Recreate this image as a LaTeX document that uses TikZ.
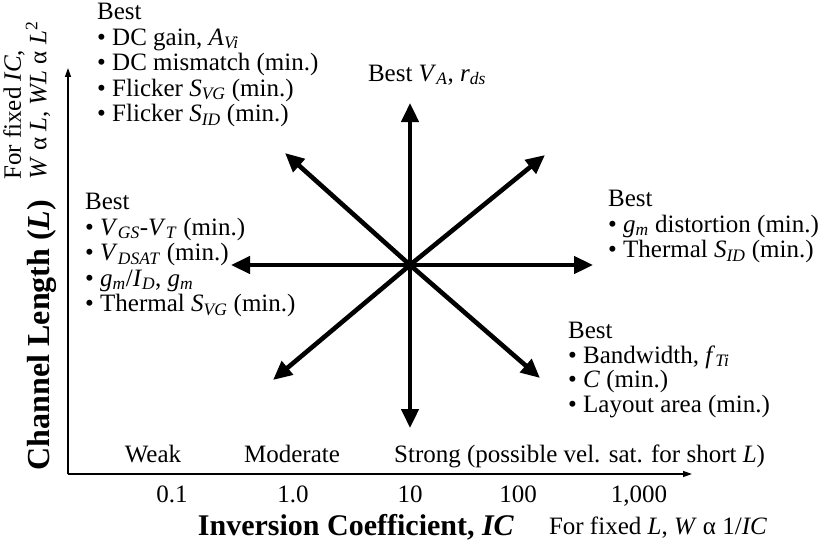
\documentclass[tikz,border=0pt]{standalone}
\usepackage{fontspec}
\setmainfont{Liberation Serif}
\usetikzlibrary{arrows.meta}
\newcommand{\vsub}[2]{\textit{#1}\textsubscript{\textit{#2}}}
\tikzset{
  txt/.style={inner sep=0pt,font=\fontsize{25}{25.5}\selectfont},
  blk/.style={txt,align=left,anchor=north west},
  star/.style={line width=4.6pt,-{Triangle[length=19pt,width=17pt]}},
  ax/.style={line width=1.3pt,-{Triangle[length=9pt,width=6pt]}}
}

\begin{document}
\begin{tikzpicture}[x=1pt,y=-1pt]
\useasboundingbox (0,0) rectangle (820,543);
\coordinate (org) at (68,474);
\coordinate (ytip) at (68,68);
\coordinate (xtip) at (692,474);
\draw[ax] (org)--(ytip);
\draw[ax] (org)--(xtip);
% the star of trade-offs
\coordinate (O) at (410,265);
\foreach \n/\x/\y in {up/410/103,dn/410/428,lt/231/265,rt/593/265,
  ul/285/153,ur/545/155,dl/273/380,dr/540/378}
  \coordinate (\n) at (\x,\y);
\foreach \n in {up,dn,lt,rt,ul,ur,dl,dr}
  \draw[star] (O)--(\n);
\path
(97,3)node[blk](bestUL){Best\\
  • DC gain, \vsub{A}{Vi}\\
  • DC mismatch (min.)\\
  • Flicker \vsub{S}{VG} (min.)\\
  • Flicker \vsub{S}{ID} (min.)}
(85,193)node[blk](bestL){Best\\
  • \vsub{V}{GS}-\vsub{V}{T} (min.)\\
  • \vsub{V}{DSAT} (min.)\\
  • \vsub{g}{m}/\vsub{I}{D}, \vsub{g}{m}\\
  • Thermal \vsub{S}{VG} (min.)}
(608,190)node[blk](bestR){Best\\
  • \vsub{g}{m} distortion (min.)\\
  • Thermal \vsub{S}{ID} (min.)}
(568,322)node[blk,font=\fontsize{25}{24.5}\selectfont](bestDR){Best\\
  • Bandwidth, \vsub{f}{Ti}\\
  • \textit{C} (min.)\\
  • Layout area (min.)}
(427,75)node[txt](bestU){Best \vsub{V}{A}, \vsub{r}{ds}}
;
\path
(3,180)node[blk,rotate=90](fixIC){For fixed \textit{IC},\\
  \textit{W} α \textit{L}, \textit{WL} α \textit{L}\textsuperscript{2}}
(42,335)node[rotate=90,inner sep=0pt,font=\fontsize{32}{34}\selectfont\bfseries](chan){Channel Length (\textit{L})}
(153,462)node[txt,anchor=base](weak){Weak}
(292,462)node[txt,anchor=base](moder){Moderate}
(394,462)node[txt,anchor=base west](strong){Strong (possible vel. sat. for short \textit{L})}
(172,502)node[txt,anchor=base](ic1){0.1}
(293,502)node[txt,anchor=base](ic2){1.0}
(410,502)node[txt,anchor=base](ic3){10}
(518,502)node[txt,anchor=base](ic4){100}
(639,502)node[txt,anchor=base](ic5){1,000}
(356,535)node[anchor=base,inner sep=0pt,font=\fontsize{30}{32}\selectfont\bfseries](icx){Inversion Coefficient, \textit{IC}}
(658,534)node[txt,anchor=base](fixL){For fixed \textit{L}, \textit{W} α 1/\textit{IC}}
;
\end{tikzpicture}
\end{document}
